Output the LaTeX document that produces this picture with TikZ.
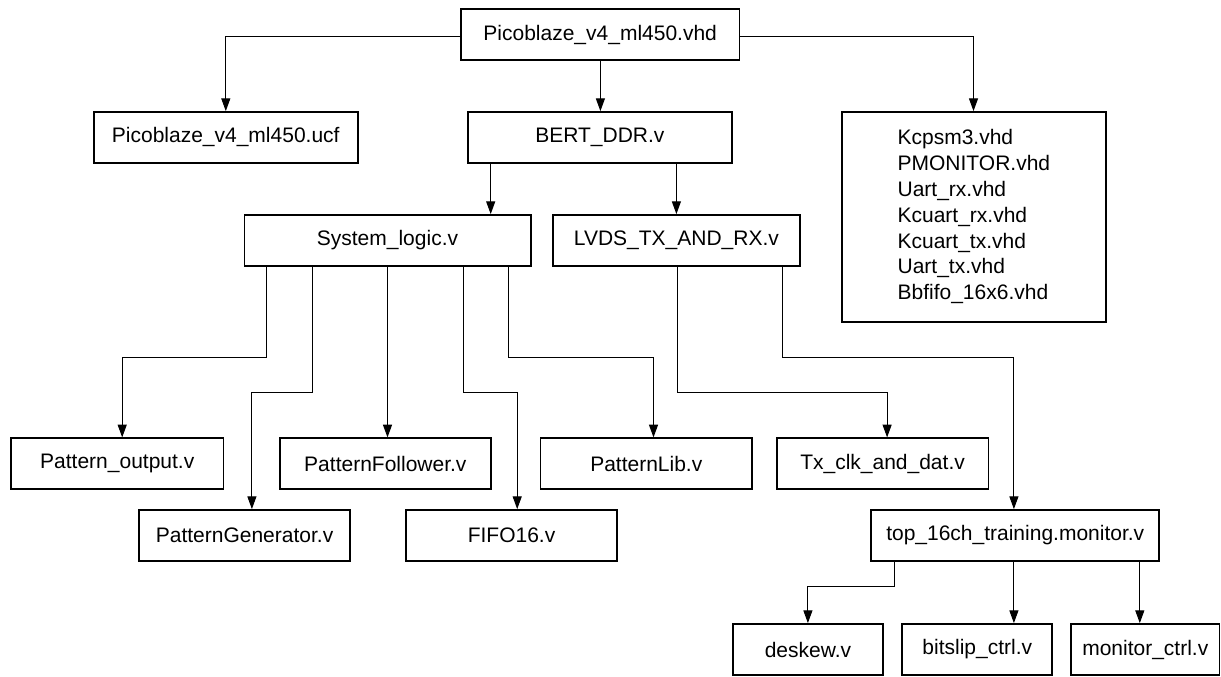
\documentclass[tikz,border=0pt]{standalone}
\usepackage{fontspec}
\setmainfont{Liberation Sans}
\usetikzlibrary{arrows.meta}
\begin{document}
\begin{tikzpicture}[x=1pt,y=-1pt,
  box/.style={draw=black,line width=1.8pt,fill=white,inner sep=0pt,font=\fontsize{21}{25.8}\selectfont},
  arr/.style={draw=black,line width=1pt,-{Triangle[length=12.7pt,width=9pt]}}]
\useasboundingbox (0,0) rectangle (1221,677);
% boxes
\node[box,minimum width=278.4pt,minimum height=51pt] (top) at (600.2,34.8) {Picoblaze\_v4\_ml450.vhd};
\node[box,minimum width=264pt,minimum height=50.7pt] (ucf) at (225.75,137.35) {Picoblaze\_v4\_ml450.ucf};
\node[box,minimum width=264pt,minimum height=50.7pt] (bert) at (599.85,137.35) {BERT\_DDR.v};
\node[box,minimum width=263.7pt,minimum height=209.7pt,align=left] (lib) at (973.85,216.85) {Kcpsm3.vhd\\PMONITOR.vhd\\Uart\_rx.vhd\\Kcuart\_rx.vhd\\Kcuart\_tx.vhd\\Uart\_tx.vhd\\Bbfifo\_16x6.vhd};
\node[box,minimum width=286.2pt,minimum height=50.7pt] (sys) at (387.5,240.35) {System\_logic.v};
\node[box,minimum width=247.2pt,minimum height=50.7pt] (lvds) at (676.4,240.35) {LVDS\_TX\_AND\_RX.v};
\node[box,minimum width=212.3pt,minimum height=50.7pt] (po) at (117.25,463.65) {Pattern\_output.v};
\node[box,minimum width=211.5pt,minimum height=50.7pt] (pf) at (385.35,463.65) {PatternFollower.v};
\node[box,minimum width=211.6pt,minimum height=50.7pt] (plib) at (646.3,463.65) {PatternLib.v};
\node[box,minimum width=211.9pt,minimum height=50.7pt] (tx) at (882.55,463.65) {Tx\_clk\_and\_dat.v};
\node[box,minimum width=211.5pt,minimum height=51pt] (pg) at (244.55,535.5) {PatternGenerator.v};
\node[box,minimum width=210.9pt,minimum height=51pt] (fifo) at (511.55,535.5) {FIFO16.v};
\node[box,minimum width=287.9pt,minimum height=51pt] (t16) at (1015.25,535.5) {top\_16ch\_training.monitor.v};
\node[box,minimum width=150.5pt,minimum height=51pt] (desk) at (807.95,649.5) {deskew.v};
\node[box,minimum width=150.1pt,minimum height=51pt] (bits) at (977.25,649.5) {bitslip\_ctrl.v};
\node[box,minimum width=148.5pt,minimum height=51pt] (mon) at (1145.3,649.5) {monitor\_ctrl.v};
% helper coordinates
\coordinate (ka) at (225.8,37);
\coordinate (kb) at (600.4,0);
\coordinate (kc) at (973.5,37);
\coordinate (kd) at (490.7,0);
\coordinate (e1) at (266.1,357.3); \coordinate (e1b) at (122.2,357.3);
\coordinate (e2) at (312.4,392.7); \coordinate (e2b) at (251.9,392.7);
\coordinate (e3) at (387.5,0);
\coordinate (e4) at (463,392.7);   \coordinate (e4b) at (517.2,392.7);
\coordinate (e5) at (508.9,357.3); \coordinate (e5b) at (653.5,357.3);
\coordinate (f1) at (677.2,392.7); \coordinate (f1b) at (887.1,392.7);
\coordinate (f2) at (782.6,357.3); \coordinate (f2b) at (1013.9,357.3);
\coordinate (g1) at (894.3,586.3); \coordinate (g1b) at (807.9,586.3);
\coordinate (g2) at (1013.9,0);
\coordinate (g3) at (1139.8,0);
% connectors
\draw[arr] (top.west |- ka) -- (ka) -- (ucf.north -| ka);
\draw[arr] (top.south -| kb) -- (bert.north -| kb);
\draw[arr] (top.east |- kc) -- (kc) -- (lib.north -| kc);
\draw[arr] (bert.south -| kd) -- (sys.north -| kd);
\draw[arr] (bert.south -| lvds.north) -- (lvds.north);
\draw[arr] (sys.south -| e1) -- (e1) -- (e1b) -- (po.north -| e1b);
\draw[arr] (sys.south -| e2) -- (e2) -- (e2b) -- (pg.north -| e2b);
\draw[arr] (sys.south -| e3) -- (pf.north -| e3);
\draw[arr] (sys.south -| e4) -- (e4) -- (e4b) -- (fifo.north -| e4b);
\draw[arr] (sys.south -| e5) -- (e5) -- (e5b) -- (plib.north -| e5b);
\draw[arr] (lvds.south -| f1) -- (f1) -- (f1b) -- (tx.north -| f1b);
\draw[arr] (lvds.south -| f2) -- (f2) -- (f2b) -- (t16.north -| f2b);
\draw[arr] (t16.south -| g1) -- (g1) -- (g1b) -- (desk.north -| g1b);
\draw[arr] (t16.south -| g2) -- (bits.north -| g2);
\draw[arr] (t16.south -| g3) -- (mon.north -| g3);
\end{tikzpicture}
\end{document}
